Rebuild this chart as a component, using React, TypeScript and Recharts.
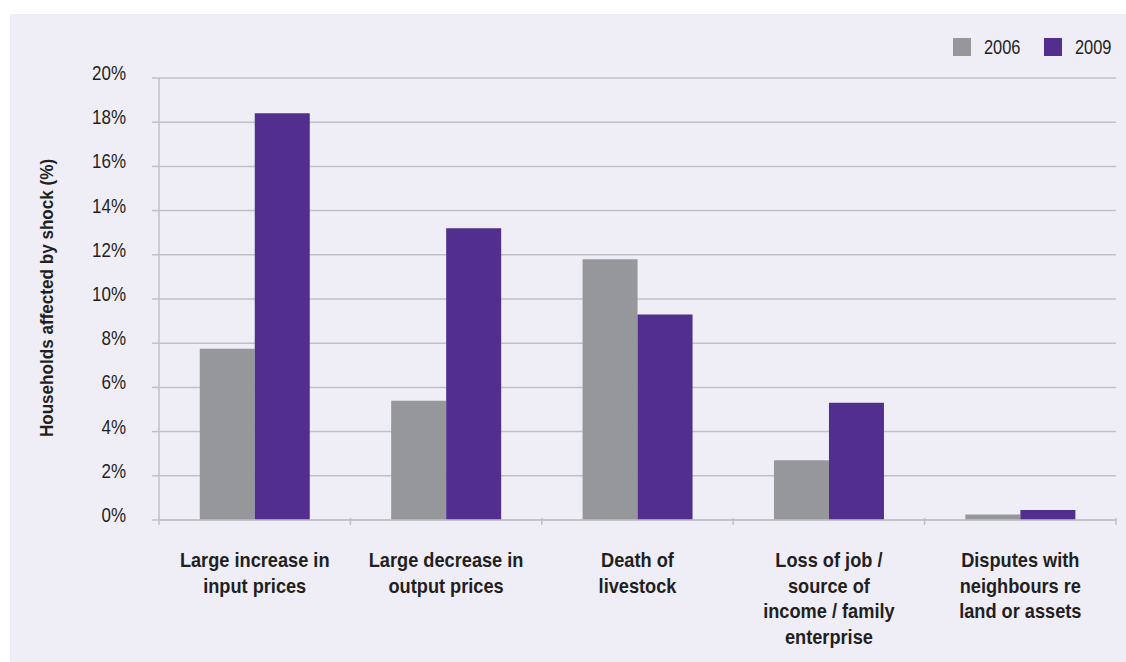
import { Bar, BarChart, CartesianGrid, Label, XAxis, YAxis } from "recharts";

const CATEGORY_LINES: string[][] = [
  ["Large increase in", "input prices"],
  ["Large decrease in", "output prices"],
  ["Death of", "livestock"],
  ["Loss of job /", "source of", "income / family", "enterprise"],
  ["Disputes with", "neighbours re", "land or assets"],
];
const CATEGORIES = CATEGORY_LINES.map((l) => l.join(" "));

const SHOCK_2006 = [7.75, 5.4, 11.8, 2.7, 0.25];
const SHOCK_2009 = [18.4, 13.2, 9.3, 5.3, 0.45];

const Y_TICKS = [0, 2, 4, 6, 8, 10, 12, 14, 16, 18, 20];

const SERIES = [
  { key: "y2006", name: "2006", color: "#96979b" },
  { key: "y2009", name: "2009", color: "#522f8f" },
];

const data = CATEGORIES.map((cat, i) => ({
  cat,
  y2006: SHOCK_2006[i],
  y2009: SHOCK_2009[i],
}));

// no condensed face installed, so text gets squeezed horizontally
const FONT = "'Liberation Sans', Arial, sans-serif";
const INK = "#231f20";
const GRID = "#c1c0c7";

function YTick(props: any) {
  const { x, y, payload } = props;
  return (
    <g transform={`translate(${x},${y + 2}) scale(0.85,1)`}>
      <text x={0} y={0} textAnchor="end" fontFamily={FONT} fontSize={20} fill={INK}>
        {payload.value}%
      </text>
    </g>
  );
}

function XTick(props: any) {
  const { x, y, payload, index } = props;
  const lines = CATEGORY_LINES[index] ?? [String(payload.value)];
  const half = payload.offset ?? 0;
  return (
    <g>
      <line x1={x - half} x2={x - half} y1={y - 8} y2={y - 1} stroke={GRID} strokeWidth={1.5} />
      {index === CATEGORIES.length - 1 && (
        <line x1={x + half} x2={x + half} y1={y - 8} y2={y - 1} stroke={GRID} strokeWidth={1.5} />
      )}
      <g transform={`translate(${x},${y + 41}) scale(0.91,1)`}>
        <text x={0} y={0} textAnchor="middle" fontFamily={FONT} fontWeight="bold" fontSize={20} fill={INK}>
          {lines.map((line, i) => (
            <tspan key={i} x={0} dy={i === 0 ? 0 : 25.7}>
              {line}
            </tspan>
          ))}
        </text>
      </g>
    </g>
  );
}

function LegendBox() {
  return (
    <div
      style={{
        position: "absolute",
        top: 23,
        left: 943,
        display: "flex",
        alignItems: "center",
        fontFamily: FONT,
        fontSize: 20,
        lineHeight: "20px",
        color: INK,
      }}
    >
      {SERIES.map((s, i) => (
        <div key={s.key} style={{ display: "flex", alignItems: "center", marginLeft: i === 0 ? 0 : 24 }}>
          <span style={{ display: "inline-block", width: 18, height: 18, background: s.color, marginRight: 13 }} />
          <span style={{ display: "inline-block", width: 36, whiteSpace: "nowrap" }}>
            <span style={{ display: "inline-block", transform: "scaleX(0.82)", transformOrigin: "left center" }}>
              {s.name}
            </span>
          </span>
        </div>
      ))}
    </div>
  );
}

export default function App() {
  return (
    <div style={{ position: "relative", width: 1126, height: 662, background: "#ffffff", overflow: "hidden" }}>
      <style>{"body{margin:0;overflow:hidden}"}</style>
      <div
        style={{
          position: "absolute",
          left: 10,
          top: 14,
          width: 1116,
          height: 648,
          background: "#efeef7",
        }}
      >
        <BarChart
          width={1116}
          height={648}
          data={data}
          margin={{ top: 64, right: 10, bottom: 12, left: 0 }}
          barCategoryGap="21.3%"
          barGap={0}
        >
          <CartesianGrid vertical={false} stroke={GRID} strokeWidth={1.5} />
          <XAxis
            dataKey="cat"
            interval={0}
            height={130}
            axisLine={{ stroke: GRID, strokeWidth: 1.5 }}
            tickLine={false}
            tick={<XTick />}
            tickMargin={0}
          />
          <YAxis
            width={149}
            domain={[0, 20]}
            ticks={Y_TICKS}
            interval={0}
            axisLine={{ stroke: GRID, strokeWidth: 1.5 }}
            tickLine={{ stroke: GRID, strokeWidth: 1.5 }}
            tickSize={7}
            tickMargin={26}
            tick={<YTick />}
          >
            <Label
              position="insideLeft"
              content={(p: any) => {
                const vb = p.viewBox;
                const cx = 37;
                const cy = vb.y + vb.height / 2 - 1;
                return (
                  <g transform={`translate(${cx},${cy}) rotate(-90) scale(0.9,1)`}>
                    <text
                      x={0}
                      y={0}
                      textAnchor="middle"
                      dominantBaseline="central"
                      fontFamily={FONT}
                      fontWeight="bold"
                      fontSize={19}
                      fill={INK}
                    >
                      Households affected by shock (%)
                    </text>
                  </g>
                );
              }}
            />
          </YAxis>
          {SERIES.map((s) => (
            <Bar key={s.key} dataKey={s.key} name={s.name} fill={s.color} isAnimationActive={false} />
          ))}
        </BarChart>
        <LegendBox />
      </div>
    </div>
  );
}
